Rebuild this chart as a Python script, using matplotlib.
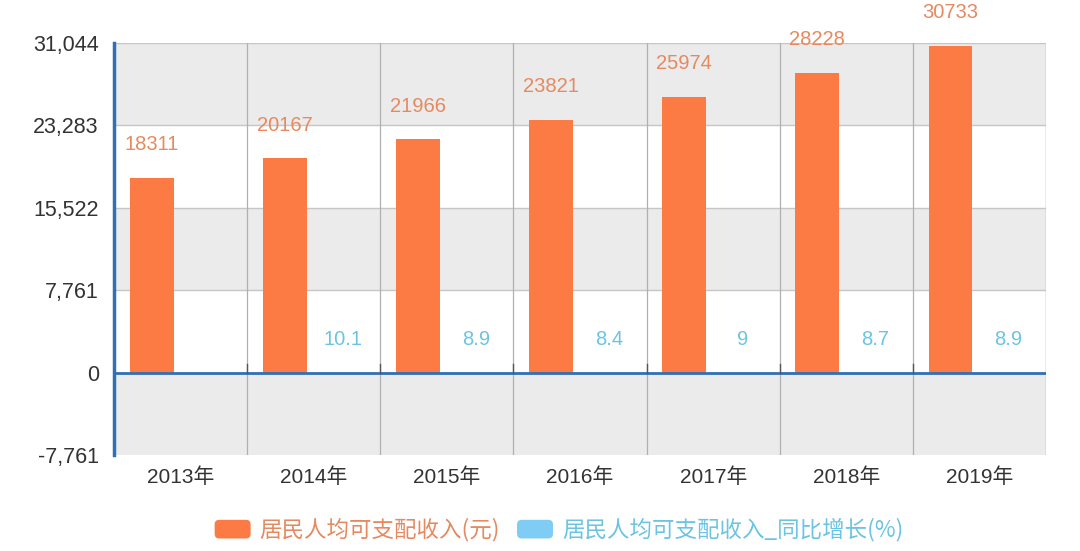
import matplotlib
matplotlib.use("Agg")
import matplotlib.pyplot as plt
import numpy as np
from matplotlib.patches import FancyBboxPatch, Patch
from matplotlib.legend_handler import HandlerPatch

plt.rcParams['font.family'] = ['Liberation Sans', 'Noto Sans CJK SC', 'DejaVu Sans']

categories = ['2013年', '2014年', '2015年', '2016年', '2017年', '2018年', '2019年']
income = [18311, 20167, 21966, 23821, 25974, 28228, 30733]
growth = [np.nan, 10.1, 8.9, 8.4, 9, 8.7, 8.9]
growth_labels = ['', '10.1', '8.9', '8.4', '9', '8.7', '8.9']
yticks = [-7761, 0, 7761, 15522, 23283, 31044]
series_names = ['居民人均可支配收入(元)', '居民人均可支配收入_同比增长(%)']

bar_orange = '#fc7a43'
lab_orange = '#e58a60'
bar_blue = '#7fcdf5'
lab_blue = '#6cc4e2'
axis_blue = '#3070b5'


class RoundHandler(HandlerPatch):
    def create_artists(self, legend, orig_handle, xdescent, ydescent,
                       width, height, fontsize, trans):
        p = FancyBboxPatch((-xdescent, -ydescent), width, height,
                           boxstyle='round,pad=0,rounding_size=%f' % (height * 0.25),
                           facecolor=orig_handle.get_facecolor(), edgecolor='none',
                           transform=trans)
        return [p]


fig = plt.figure(figsize=(10.8, 5.51), dpi=100)
ax = fig.add_axes([0.1056, 0.1742, 0.8630, 0.7478])

n = len(categories)
x = np.arange(n)
ax.set_xlim(-0.5, n - 0.5)
ax.set_ylim(yticks[0], yticks[-1])

for i in range(len(yticks) - 1):
    if i % 2 == 0:
        ax.axhspan(yticks[i], yticks[i + 1], color='#ebebeb', zorder=0, lw=0)
for t in yticks[1:]:
    ax.axhline(t, color='#c6c6c6', lw=1, zorder=1)
for b in np.arange(0.5, n, 1.0):
    ax.axvline(b, color='#b0b0b0', lw=0.9, zorder=1)
ax.axvline(n - 0.5, color='#c6c6c6', lw=1, zorder=1)

off = 0.218
w = 0.33
ax.bar(x - off, income, width=w, color=bar_orange, zorder=3)
ax.bar(x + off, growth, width=w, color=bar_blue, zorder=3)

for xi, v in zip(x, income):
    ax.annotate(str(v), (xi - off, v), xytext=(0, 24), textcoords='offset points',
                ha='center', va='center', color=lab_orange, fontsize=14.5, zorder=5)
for xi, v, s in zip(x, growth, growth_labels):
    if s:
        ax.annotate(s, (xi + off, v), xytext=(0, 24), textcoords='offset points',
                    ha='center', va='center', color=lab_blue, fontsize=14.5, zorder=5)

ax.axhline(0, color=axis_blue, lw=2, zorder=4)
for b in np.arange(0.5, n - 0.5, 1.0):
    ax.plot([b, b], [0, 850], color='#555555', lw=1, zorder=4)

for s in ['top', 'right', 'bottom']:
    ax.spines[s].set_visible(False)
ax.spines['left'].set_color(axis_blue)
ax.spines['left'].set_linewidth(2.5)
ax.spines['left'].set_zorder(6)

ax.set_yticks(yticks)
ax.set_yticklabels([f'{t:,}' for t in yticks], fontsize=15.5, color='#333333')
ax.set_xticks(x)
ax.set_xticklabels(categories, fontsize=15, color='#333333')
ax.tick_params(axis='y', length=0, pad=11)
ax.tick_params(axis='x', length=0, pad=9)

handles = [Patch(facecolor=bar_orange, edgecolor='none'),
           Patch(facecolor=bar_blue, edgecolor='none')]
leg = fig.legend(handles, series_names, loc='center', bbox_to_anchor=(0.5176, 0.038),
                 ncol=2, frameon=False, handlelength=1.6, handleheight=0.9,
                 handletextpad=0.4, columnspacing=0.75,
                 handler_map={Patch: RoundHandler()},
                 prop={'family': ['Noto Sans CJK SC', 'DejaVu Sans'], 'size': 16.2})
for t, c in zip(leg.get_texts(), [lab_orange, lab_blue]):
    t.set_color(c)

fig.savefig('out.png', dpi=100)
